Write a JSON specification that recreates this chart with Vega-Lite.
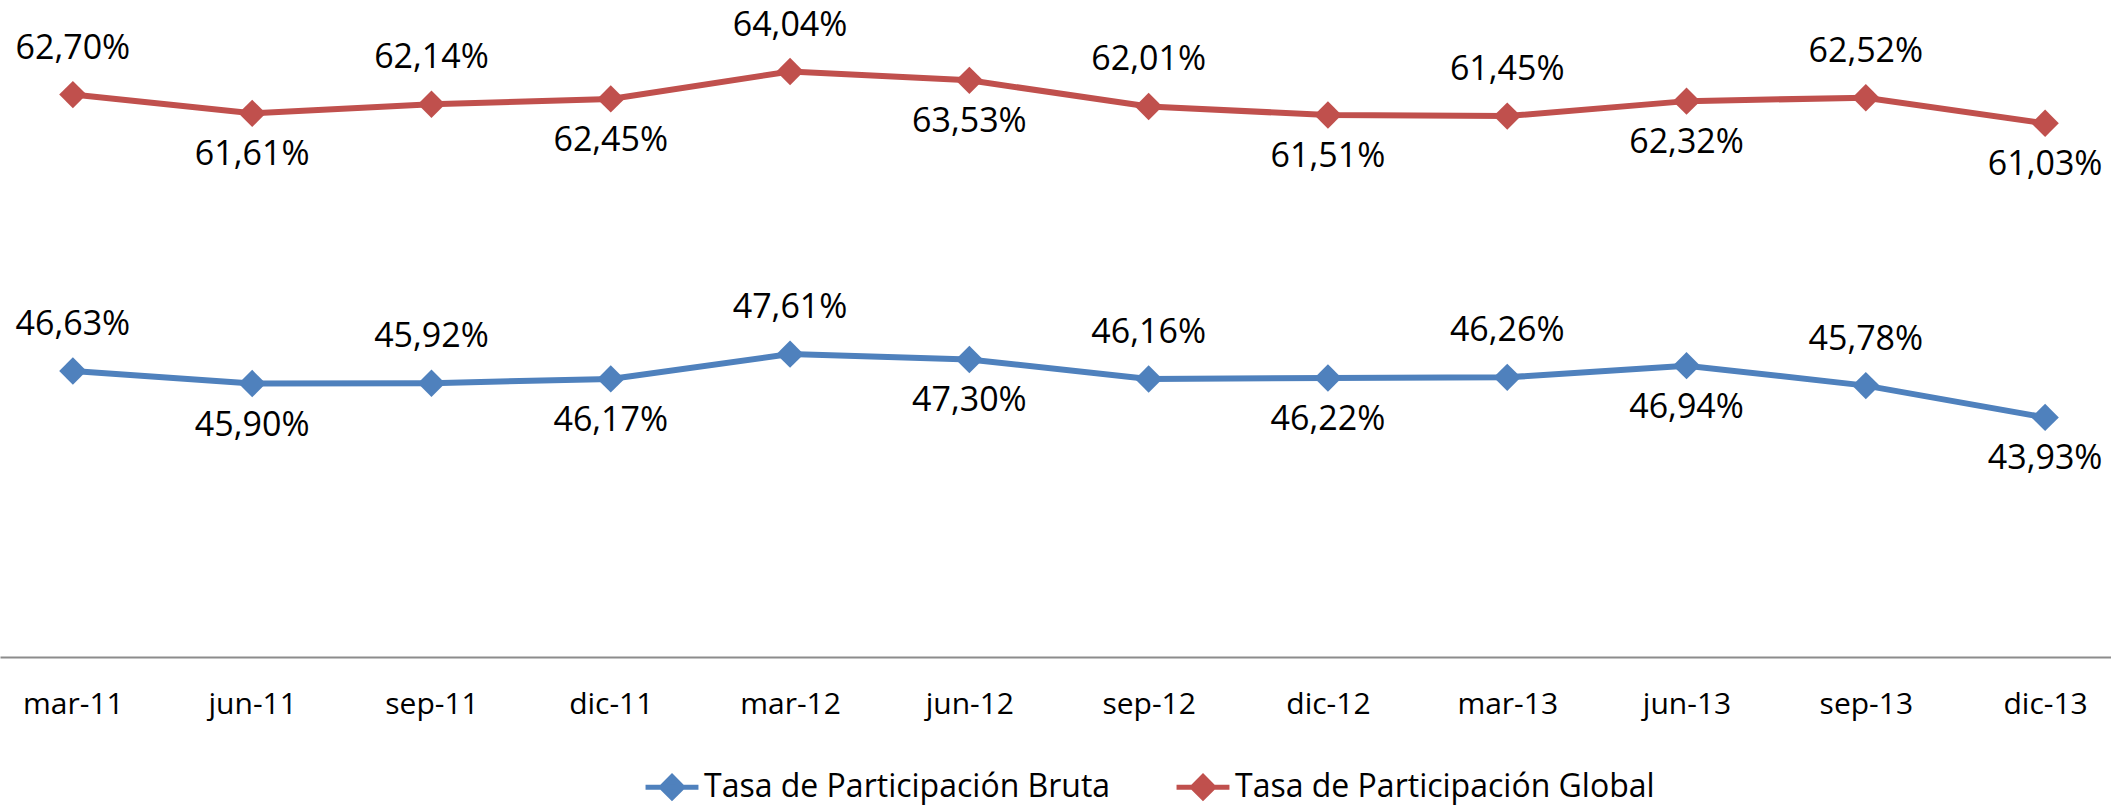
{
  "$schema": "https://vega.github.io/schema/vega-lite/v6.json",
  "width": 2111,
  "height": 657,
  "autosize": "none",
  "padding": {"left": 0, "top": 0, "right": 0, "bottom": 148},
  "background": "white",
  "config": {
    "view": {"stroke": null},
    "locale": {"number": {"decimal": ",", "thousands": ".", "grouping": [3], "currency": ["", " €"]}}
  },
  "data": {
    "values": [
      {"periodo": "mar-11", "serie": "Tasa de Participación Global", "tasa": 0.6270},
      {"periodo": "jun-11", "serie": "Tasa de Participación Global", "tasa": 0.6161},
      {"periodo": "sep-11", "serie": "Tasa de Participación Global", "tasa": 0.6214},
      {"periodo": "dic-11", "serie": "Tasa de Participación Global", "tasa": 0.6245},
      {"periodo": "mar-12", "serie": "Tasa de Participación Global", "tasa": 0.6404},
      {"periodo": "jun-12", "serie": "Tasa de Participación Global", "tasa": 0.6353},
      {"periodo": "sep-12", "serie": "Tasa de Participación Global", "tasa": 0.6201},
      {"periodo": "dic-12", "serie": "Tasa de Participación Global", "tasa": 0.6151},
      {"periodo": "mar-13", "serie": "Tasa de Participación Global", "tasa": 0.6145},
      {"periodo": "jun-13", "serie": "Tasa de Participación Global", "tasa": 0.6232},
      {"periodo": "sep-13", "serie": "Tasa de Participación Global", "tasa": 0.6252},
      {"periodo": "dic-13", "serie": "Tasa de Participación Global", "tasa": 0.6103},
      {"periodo": "mar-11", "serie": "Tasa de Participación Bruta", "tasa": 0.4663},
      {"periodo": "jun-11", "serie": "Tasa de Participación Bruta", "tasa": 0.4590},
      {"periodo": "sep-11", "serie": "Tasa de Participación Bruta", "tasa": 0.4592},
      {"periodo": "dic-11", "serie": "Tasa de Participación Bruta", "tasa": 0.4617},
      {"periodo": "mar-12", "serie": "Tasa de Participación Bruta", "tasa": 0.4761},
      {"periodo": "jun-12", "serie": "Tasa de Participación Bruta", "tasa": 0.4730},
      {"periodo": "sep-12", "serie": "Tasa de Participación Bruta", "tasa": 0.4616},
      {"periodo": "dic-12", "serie": "Tasa de Participación Bruta", "tasa": 0.4622},
      {"periodo": "mar-13", "serie": "Tasa de Participación Bruta", "tasa": 0.4626},
      {"periodo": "jun-13", "serie": "Tasa de Participación Bruta", "tasa": 0.4694},
      {"periodo": "sep-13", "serie": "Tasa de Participación Bruta", "tasa": 0.4578},
      {"periodo": "dic-13", "serie": "Tasa de Participación Bruta", "tasa": 0.4393}
    ]
  },
  "encoding": {
    "x": {
      "field": "periodo",
      "type": "ordinal",
      "sort": null,
      "scale": {"type": "point", "range": [0, 2118], "padding": 0.4065},
      "axis": {
        "title": null,
        "ticks": false,
        "labelAngle": 0,
        "labelFont": "Open Sans",
        "labelFontSize": 30,
        "labelColor": "#000000",
        "labelPadding": 32,
        "domainColor": "#8c8c8c",
        "domainWidth": 2,
        "grid": false
      }
    },
    "y": {
      "field": "tasa",
      "type": "quantitative",
      "scale": {"domain": [0.30, 0.682], "nice": false, "zero": false},
      "axis": null
    },
    "color": {
      "field": "serie",
      "type": "nominal",
      "scale": {
        "domain": ["Tasa de Participación Bruta", "Tasa de Participación Global"],
        "range": ["#4F81BD", "#C0504D"]
      },
      "legend": {
        "title": null,
        "orient": "none",
        "direction": "horizontal",
        "legendX": 643,
        "legendY": 758,
        "symbolType": "M-1,0L1,0M0,-0.4L0.4,0L0,0.4L-0.4,0Z",
        "symbolSize": 2800,
        "symbolStrokeWidth": 5,
        "labelFont": "Open Sans",
        "labelFontSize": 32,
        "labelColor": "#000000",
        "labelLimit": 800,
        "labelOffset": 3,
        "columnPadding": 55,
        "encode": {
          "symbols": {
            "update": {
              "stroke": {"scale": "color", "field": "value"},
              "fill": {"scale": "color", "field": "value"},
              "strokeWidth": {"value": 5},
              "opacity": {"value": 1}
            }
          }
        }
      }
    }
  },
  "layer": [
    {"mark": {"type": "line", "strokeWidth": 6}},
    {"mark": {"type": "point", "shape": "diamond", "filled": true, "size": 750, "opacity": 1}},
    {
      "transform": [{"filter": {"field": "periodo", "oneOf": ["mar-11", "sep-11", "mar-12", "sep-12", "mar-13", "sep-13"]}}],
      "mark": {"type": "text", "dy": -46, "fontSize": 34, "font": "Open Sans", "baseline": "middle", "align": "center"},
      "encoding": {
        "text": {"field": "tasa", "format": ".2%"},
        "color": {"value": "#000000"}
      }
    },
    {
      "transform": [{"filter": {"field": "periodo", "oneOf": ["jun-11", "dic-11", "jun-12", "dic-12", "jun-13", "dic-13"]}}],
      "mark": {"type": "text", "dy": 42, "fontSize": 34, "font": "Open Sans", "baseline": "middle", "align": "center"},
      "encoding": {
        "text": {"field": "tasa", "format": ".2%"},
        "color": {"value": "#000000"}
      }
    }
  ]
}
